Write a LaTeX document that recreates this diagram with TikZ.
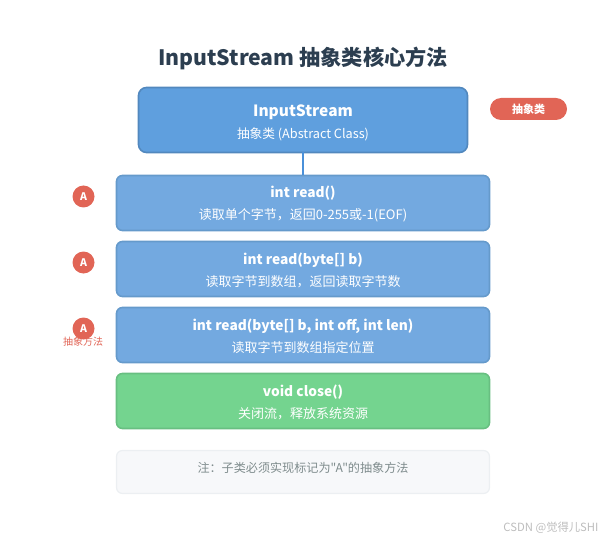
\documentclass[tikz,border=0pt]{standalone}
\usepackage{fontspec}
\setmainfont{Noto Sans CJK SC}
\newfontfamily\plainfont{Noto Sans CJK SC}
\usepackage{xcolor}
\usetikzlibrary{positioning}
\definecolor{colorTitle}{HTML}{2C3E50}
\definecolor{colorRoot}{HTML}{5F9FDE}
\definecolor{colorRootEdge}{HTML}{5288BE}
\definecolor{colorLink}{HTML}{4A90D9}
\definecolor{colorMethod}{HTML}{73A9E0}
\definecolor{colorMethodEdge}{HTML}{659ACB}
\definecolor{colorClose}{HTML}{74D48F}
\definecolor{colorCloseEdge}{HTML}{68BF81}
\definecolor{colorRed}{HTML}{E16556}
\definecolor{colorNote}{HTML}{F7F8FA}
\definecolor{colorNoteEdge}{HTML}{ECEFF2}
\definecolor{colorNoteText}{HTML}{7F8C8D}
\definecolor{colorMark}{HTML}{BDBDBD}
\tikzset{
  rootbox/.style={draw=colorRootEdge, fill=colorRoot, line width=1.6pt, outer sep=0pt, rounded corners=8pt, minimum width=329pt, minimum height=65pt, inner sep=0pt, align=center, text=white},
  methodbox/.style={draw=colorMethodEdge, fill=colorMethod, line width=1.6pt, outer sep=0pt, rounded corners=6pt, minimum width=373pt, minimum height=55pt, inner sep=0pt, align=center, text=white},
  closebox/.style={methodbox, draw=colorCloseEdge, fill=colorClose},
  notebox/.style={draw=colorNoteEdge, fill=colorNote, line width=1.2pt, outer sep=0pt, rounded corners=6pt, minimum width=373pt, minimum height=43pt, inner sep=0pt},
  abstractmark/.style={circle, fill=colorRed, minimum size=22pt, inner sep=0pt, outer sep=0pt, yshift=6.5pt, text=white, font=\fontsize{10.5pt}{12pt}\selectfont\bfseries},
}
\newcommand{\boxhead}[1]{{\fontsize{13.75pt}{17pt}\selectfont\bfseries\rule{0pt}{14pt}#1}}
\newcommand{\boxsub}[1]{{\fontsize{13pt}{15pt}\selectfont #1}}
\begin{document}
\begin{tikzpicture}[x=1pt, y=-1pt]
  \useasboundingbox (0,0) rectangle (605,540);
  \node[font=\fontsize{21.2pt}{25pt}\selectfont\bfseries, text=colorTitle] (title) at (303,58.5) {InputStream 抽象类核心方法};
  % class box and methods
  \node[rootbox] (root) at (303,120) {{\fontsize{15.5pt}{20pt}\selectfont\bfseries\rule{0pt}{17pt}InputStream}\\[7pt]{\fontsize{12.7pt}{15pt}\selectfont 抽象类 (Abstract Class)}};
  \node[methodbox, below=23pt of root] (read1) {\boxhead{int read()}\\[7pt]\boxsub{读取单个字节，返回0-255或-1(EOF)}};
  \node[methodbox, below=11pt of read1] (read2) {\boxhead{int read(byte[] b)}\\[7pt]\boxsub{读取字节到数组，返回读取字节数}};
  \node[methodbox, below=11pt of read2] (read3) {\boxhead{int read(byte[] b, int off, int len)}\\[7pt]\boxsub{读取字节到数组指定位置}};
  \node[closebox, below=11pt of read3] (close) {\boxhead{void close()}\\[7pt]\boxsub{关闭流，释放系统资源}};
  \node[notebox, below=22pt of close] (note) {};
  \node[font=\fontsize{12.1pt}{14pt}\plainfont, text=colorNoteText] (notetext) at (303,467.5) {注：子类必须实现标记为"A"的抽象方法};
  \draw[colorLink, line width=1.6pt] (root) -- (read1);
  % red markers
  \node[font=\fontsize{10pt}{12pt}\selectfont, text=colorRed] (marklabel) at (83,342) {抽象方法};
  \node[abstractmark, left=22pt of read1] (mark1) {A};
  \node[abstractmark, left=22pt of read2] (mark2) {A};
  \node[abstractmark, left=22pt of read3] (mark3) {A};
  \node[fill=colorRed, rounded corners=11pt, minimum width=77pt, minimum height=22pt, inner sep=0pt, text=white, font=\fontsize{11pt}{13pt}\selectfont\bfseries] (badge) at (528.5,109) {抽象类};
  \node[font=\fontsize{11.3pt}{13pt}\selectfont, text=colorMark, anchor=east] (mark) at (602,528) {CSDN @觉得儿SHI};
\end{tikzpicture}
\end{document}
